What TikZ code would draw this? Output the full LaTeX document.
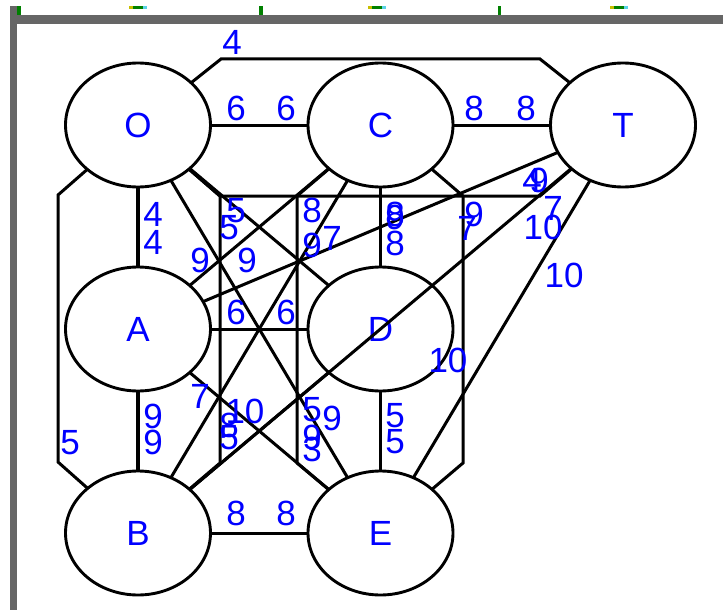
\documentclass[tikz,border=0pt]{standalone}
\usepackage{fontspec}
\setmainfont{Liberation Sans}
\usetikzlibrary{shapes.geometric}
\definecolor{framegray}{RGB}{102,102,102}
\definecolor{tickgreen}{RGB}{0,128,0}
\definecolor{tickyellow}{RGB}{200,190,0}
\definecolor{tickcyan}{RGB}{90,210,230}
\tikzset{
  nd/.style={ellipse, draw=black, line width=2.9pt, minimum width=145pt, minimum height=124pt,
    inner sep=0pt, outer sep=0pt, text=blue, font=\fontsize{35}{35}\selectfont},
  lb/.style={inner sep=0pt, outer sep=0pt, text=blue, font=\fontsize{35}{35}\selectfont},
  ed/.style={draw=black, line width=3pt},
  edv/.style={draw=black, line width=3.4pt}
}
\begin{document}
\begin{tikzpicture}[x=1pt,y=-1pt]
\useasboundingbox (0,0) rectangle (723,610);
\fill[white] (0,0) rectangle (723,610);
% window frame
\fill[framegray] (10,15) rectangle (723,24);
\fill[framegray] (10,6) rectangle (17,610);
\fill[tickgreen] (17,6) rectangle (21,15);
\fill[tickgreen] (259,6) rectangle (263,15);
\fill[tickgreen] (498,6) rectangle (501,15);
\foreach \a in {129,368,610}{
  \fill[tickyellow] (\a,6) rectangle (\a+4,9);
  \fill[tickgreen] (\a+4,6) rectangle (\a+14,9);
  \fill[tickcyan] (\a+14,6) rectangle (\a+18,9);
}
% nodes
\node[nd] (O) at (138,125) {O};
\node[nd] (C) at (380.5,125) {C};
\node[nd] (T) at (623,125) {T};
\node[nd] (A) at (138,329) {A};
\node[nd] (D) at (380.5,329) {D};
\node[nd] (B) at (138,533) {B};
\node[nd] (E) at (380.5,533) {E};
% bend points
\coordinate (ot1) at (221,59);
\coordinate (ot2) at (540,59);
\coordinate (ob1) at (58,195);
\coordinate (ob2) at (58,462);
\coordinate (ib1) at (220,196);
\coordinate (ib2) at (220,463);
\coordinate (ot3) at (540,196);
\coordinate (ce1) at (297,196);
\coordinate (ce2) at (297,463);
\coordinate (ce3) at (463,196);
\coordinate (ce4) at (463,463);
% straight edges
\draw[edv] (O) -- (A);
\draw[ed] (O) -- (C);
\draw[ed] (O) -- (D);
\draw[ed] (O) -- (E);
\draw[edv] (A) -- (B);
\draw[ed] (A) -- (C);
\draw[ed] (A) -- (D);
\draw[ed] (A) -- (E);
\draw[ed] (A) -- (T);
\draw[ed] (B) -- (C);
\draw[ed] (B) -- (D);
\draw[ed] (B) -- (E);
\draw[ed] (B) -- (T);
\draw[edv] (C) -- (D);
\draw[ed] (C) -- (T);
\draw[edv] (D) -- (E);
\draw[ed] (E) -- (T);
% routed edges
\draw[ed] (O) -- (ot1) -- (ot2) -- (T);
\draw[ed] (O) -- (ob1) -- (ob2) -- (B);
\draw[ed] (O) -- (ib1) -- (ib2) -- (B);
\draw[ed] (O) -- (ib1) -- (ot3) -- (T);
\draw[ed] (C) -- (ce1) -- (ce2) -- (E);
\draw[ed] (C) -- (ce3) -- (ce4) -- (E);
% weight labels
\node[lb] (l1) at (232,42) {4};
\node[lb] (l2) at (236,108) {6};
\node[lb] (l3) at (286,108) {6};
\node[lb] (l4) at (474,108) {8};
\node[lb] (l5) at (526,108) {8};
\node[lb] (l6) at (153,214) {4};
\node[lb] (l7) at (153,242) {4};
\node[lb] (l8) at (153,416) {9};
\node[lb] (l9) at (153,442) {9};
\node[lb] (l10) at (70,443) {5};
\node[lb] (l11) at (236,513) {8};
\node[lb] (l12) at (286,513) {8};
\node[lb] (l13) at (395,416) {5};
\node[lb] (l14) at (395,442) {5};
\node[lb] (l15) at (395,214) {8};
\node[lb] (l16) at (395,217) {9};
\node[lb] (l17) at (395,243) {8};
\node[lb] (l18) at (236,312) {6};
\node[lb] (l19) at (286,312) {6};
\node[lb] (l20) at (236,211) {5};
\node[lb] (l21) at (229,228) {5};
\node[lb] (l22) at (200,260) {9};
\node[lb] (l23) at (247,260) {9};
\node[lb] (l24) at (312,210) {8};
\node[lb] (l25) at (312,245) {9};
\node[lb] (l26) at (332,238) {7};
\node[lb] (l27) at (474,214) {9};
\node[lb] (l28) at (467,228) {7};
\node[lb] (l29) at (532,180) {4};
\node[lb] (l30) at (539,180) {9};
\node[lb] (l31) at (553,208) {7};
\node[lb] (l32) at (543,227) {10};
\node[lb] (l33) at (564,275) {10};
\node[lb] (l34) at (448,360) {10};
\node[lb] (l35) at (200,396) {7};
\node[lb] (l36) at (245,411) {10};
\node[lb] (l37) at (229,425) {8};
\node[lb] (l38) at (229,438) {5};
\node[lb] (l39) at (312,410) {5};
\node[lb] (l40) at (332,418) {9};
\node[lb] (l41) at (312,437) {9};
\node[lb] (l42) at (312,449) {3};
\end{tikzpicture}
\end{document}
